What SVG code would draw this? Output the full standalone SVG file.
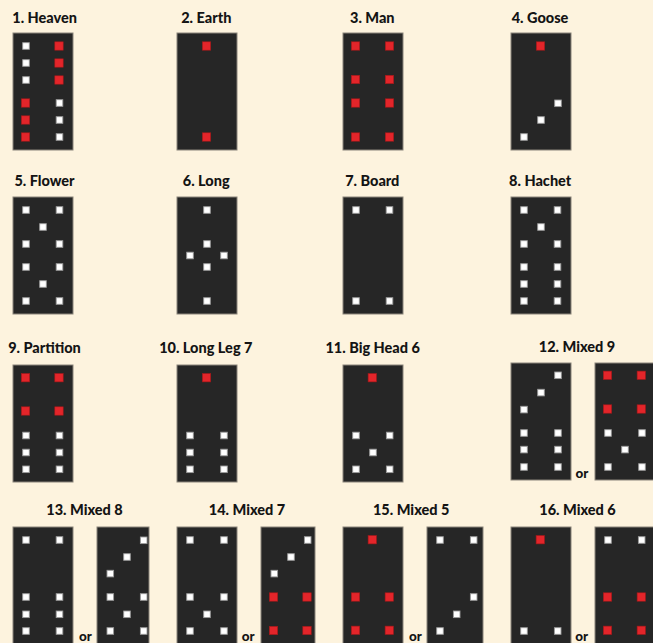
<svg xmlns="http://www.w3.org/2000/svg" xmlns:xlink="http://www.w3.org/1999/xlink" width="653" height="643" viewBox="0 0 653 643">
<style>
.bg{fill:#fdf3de}
.tile{fill:#262626;stroke:#8a847a;stroke-width:1}
.lbl{font-family:Lato,"Open Sans","Liberation Sans",sans-serif;font-weight:900;font-size:14.5px;fill:#141414;text-anchor:middle}
.or{font-family:Lato,"Open Sans","Liberation Sans",sans-serif;font-weight:900;font-size:13.5px;fill:#141414}
</style>
<defs>
<rect id="w" x="-3.3" y="-3.3" width="6.6" height="6.6" fill="#ffffff" stroke="#9a9a9a" stroke-width="0.9"/>
<rect id="r" x="-4.2" y="-4.2" width="8.4" height="8.4" fill="#e3252a" stroke="#a01818" stroke-width="0.6"/>
</defs>
<rect class="bg" x="0" y="0" width="653" height="643"/>
<g id="labels">
<text class="lbl" x="44.7" y="23">1. Heaven</text>
<text class="lbl" x="206.3" y="23">2. Earth</text>
<text class="lbl" x="372.3" y="23">3. Man</text>
<text class="lbl" x="540" y="23">4. Goose</text>
<text class="lbl" x="44.5" y="186">5. Flower</text>
<text class="lbl" x="206.2" y="186">6. Long</text>
<text class="lbl" x="372.3" y="186">7. Board</text>
<text class="lbl" x="540.2" y="186">8. Hachet</text>
<text class="lbl" x="44.5" y="353">9. Partition</text>
<text class="lbl" x="205.8" y="353">10. Long Leg 7</text>
<text class="lbl" x="372.7" y="353">11. Big Head 6</text>
<text class="lbl" x="577" y="352">12. Mixed 9</text>
<text class="lbl" x="84.5" y="514.5">13. Mixed 8</text>
<text class="lbl" x="247" y="514.5">14. Mixed 7</text>
<text class="lbl" x="411.2" y="514.5">15. Mixed 5</text>
<text class="lbl" x="577.5" y="514.5">16. Mixed 6</text>
<text class="or" x="575.5" y="478">or</text>
<text class="or" x="79" y="641">or</text>
<text class="or" x="241.7" y="641">or</text>
<text class="or" x="409" y="641">or</text>
<text class="or" x="575.3" y="641">or</text>
</g>
<g id="connectors"></g>
<g id="tile1" transform="translate(13,33)">
<rect class="tile" x="0" y="0" width="60" height="117"/>
<use href="#w" x="13" y="13"/><use href="#w" x="13" y="30"/><use href="#w" x="13" y="47"/>
<use href="#r" x="46" y="13"/><use href="#r" x="46" y="30"/><use href="#r" x="46" y="47"/>
<use href="#r" x="12.5" y="70"/><use href="#r" x="12.5" y="87"/><use href="#r" x="12.5" y="104"/>
<use href="#w" x="46.5" y="70"/><use href="#w" x="46.5" y="87"/><use href="#w" x="46.5" y="104"/>
</g>
<g id="tile2" transform="translate(177,33)">
<rect class="tile" x="0" y="0" width="60" height="117"/>
<use href="#r" x="29.5" y="13"/><use href="#r" x="29.5" y="104"/>
</g>
<g id="tile3" transform="translate(343,33)">
<rect class="tile" x="0" y="0" width="60" height="117"/>
<use href="#r" x="12.5" y="13"/><use href="#r" x="46.5" y="13"/>
<use href="#r" x="12.5" y="46.5"/><use href="#r" x="46.5" y="46.5"/>
<use href="#r" x="12.5" y="70"/><use href="#r" x="46.5" y="70"/>
<use href="#r" x="12.5" y="104"/><use href="#r" x="46.5" y="104"/>
</g>
<g id="tile4" transform="translate(511,33)">
<rect class="tile" x="0" y="0" width="60" height="117"/>
<use href="#r" x="29.5" y="13"/>
<use href="#w" x="47" y="70.3"/><use href="#w" x="30" y="87"/><use href="#w" x="13" y="104"/>
</g>
<g id="tile5" transform="translate(13,197)">
<rect class="tile" x="0" y="0" width="60" height="117"/>
<use href="#w" x="13" y="13"/><use href="#w" x="46.5" y="13"/>
<use href="#w" x="30" y="30"/>
<use href="#w" x="13" y="47"/><use href="#w" x="46.5" y="47"/>
<use href="#w" x="13" y="70"/><use href="#w" x="46.5" y="70"/>
<use href="#w" x="30" y="87"/>
<use href="#w" x="13" y="104"/><use href="#w" x="46.5" y="104"/>
</g>
<g id="tile6" transform="translate(177,197)">
<rect class="tile" x="0" y="0" width="60" height="117"/>
<use href="#w" x="30" y="13"/>
<use href="#w" x="30" y="47"/>
<use href="#w" x="13" y="58.5"/><use href="#w" x="47" y="58.5"/>
<use href="#w" x="30" y="70"/>
<use href="#w" x="30" y="104"/>
</g>
<g id="tile7" transform="translate(343,197)">
<rect class="tile" x="0" y="0" width="60" height="117"/>
<use href="#w" x="13" y="13"/><use href="#w" x="46.5" y="13"/>
<use href="#w" x="13" y="104"/><use href="#w" x="46.5" y="104"/>
</g>
<g id="tile8" transform="translate(511,197)">
<rect class="tile" x="0" y="0" width="60" height="117"/>
<use href="#w" x="13" y="13"/><use href="#w" x="46.5" y="13"/>
<use href="#w" x="30" y="30"/>
<use href="#w" x="13" y="47"/><use href="#w" x="46.5" y="47"/>
<use href="#w" x="13" y="70"/><use href="#w" x="46.5" y="70"/>
<use href="#w" x="13" y="87"/><use href="#w" x="46.5" y="87"/>
<use href="#w" x="13" y="104"/><use href="#w" x="46.5" y="104"/>
</g>
<g id="tile9" transform="translate(13,365)">
<rect class="tile" x="0" y="0" width="60" height="117"/>
<use href="#r" x="12.5" y="12.7"/><use href="#r" x="46" y="12.7"/>
<use href="#r" x="12.5" y="46"/><use href="#r" x="46" y="46"/>
<use href="#w" x="13" y="70.5"/><use href="#w" x="46.5" y="70.5"/>
<use href="#w" x="13" y="87.5"/><use href="#w" x="46.5" y="87.5"/>
<use href="#w" x="13" y="104.3"/><use href="#w" x="46.5" y="104.3"/>
</g>
<g id="tile10" transform="translate(177,365)">
<rect class="tile" x="0" y="0" width="60" height="117"/>
<use href="#r" x="29.5" y="12.7"/>
<use href="#w" x="13" y="70.5"/><use href="#w" x="47" y="70.5"/>
<use href="#w" x="13" y="87.5"/><use href="#w" x="47" y="87.5"/>
<use href="#w" x="13" y="104.3"/><use href="#w" x="47" y="104.3"/>
</g>
<g id="tile11" transform="translate(343,365)">
<rect class="tile" x="0" y="0" width="60" height="117"/>
<use href="#r" x="29.3" y="12.7"/>
<use href="#w" x="13" y="70.5"/><use href="#w" x="46.7" y="70.5"/>
<use href="#w" x="30" y="87.5"/>
<use href="#w" x="13" y="104.3"/><use href="#w" x="46.7" y="104.3"/>
</g>
<g id="tile12a" transform="translate(511,363)">
<rect class="tile" x="0" y="0" width="60" height="117"/>
<use href="#w" x="47" y="12.3"/>
<use href="#w" x="30" y="29.6"/>
<use href="#w" x="13" y="46.6"/>
<use href="#w" x="13" y="70"/><use href="#w" x="47" y="70"/>
<use href="#w" x="13" y="86.6"/><use href="#w" x="47" y="86.6"/>
<use href="#w" x="13" y="104"/><use href="#w" x="47" y="104"/>
</g>
<g id="tile12b" transform="translate(595,363)">
<rect class="tile" x="0" y="0" width="60" height="117"/>
<use href="#r" x="12.5" y="12.3"/><use href="#r" x="46.3" y="12.3"/>
<use href="#r" x="12.5" y="46"/><use href="#r" x="46.3" y="46"/>
<use href="#w" x="13" y="70"/><use href="#w" x="47" y="70"/>
<use href="#w" x="30" y="86.6"/>
<use href="#w" x="13" y="104"/><use href="#w" x="47" y="104"/>
</g>
<g id="tile13a" transform="translate(13,527)">
<rect class="tile" x="0" y="0" width="60" height="117"/>
<use href="#w" x="13" y="13"/><use href="#w" x="46.5" y="13"/>
<use href="#w" x="13" y="70"/><use href="#w" x="46.5" y="70"/>
<use href="#w" x="13" y="87.3"/><use href="#w" x="46.5" y="87.3"/>
<use href="#w" x="13" y="104"/><use href="#w" x="46.5" y="104"/>
</g>
<g id="tile13b" transform="translate(97,527)">
<rect class="tile" x="0" y="0" width="52" height="117"/>
<use href="#w" x="46.7" y="13.3"/>
<use href="#w" x="30" y="30"/>
<use href="#w" x="13.3" y="46.6"/>
<use href="#w" x="13.3" y="70"/><use href="#w" x="46.7" y="70"/>
<use href="#w" x="30" y="87.3"/>
<use href="#w" x="13.3" y="104"/><use href="#w" x="46.7" y="104"/>
</g>
<g id="tile14a" transform="translate(177,527)">
<rect class="tile" x="0" y="0" width="60" height="117"/>
<use href="#w" x="13" y="13"/><use href="#w" x="47" y="13"/>
<use href="#w" x="13" y="70"/><use href="#w" x="47" y="70"/>
<use href="#w" x="30" y="87.3"/>
<use href="#w" x="13" y="104"/><use href="#w" x="47" y="104"/>
</g>
<g id="tile14b" transform="translate(261,527)">
<rect class="tile" x="0" y="0" width="54" height="117"/>
<use href="#w" x="46.7" y="13"/>
<use href="#w" x="30" y="30"/>
<use href="#w" x="13.3" y="46.6"/>
<use href="#r" x="12.5" y="70"/><use href="#r" x="46" y="70"/>
<use href="#r" x="12.5" y="103.5"/><use href="#r" x="46" y="103.5"/>
</g>
<g id="tile15a" transform="translate(343,527)">
<rect class="tile" x="0" y="0" width="60" height="117"/>
<use href="#r" x="29.3" y="12.7"/>
<use href="#r" x="12.5" y="70"/><use href="#r" x="46.3" y="70"/>
<use href="#r" x="12.5" y="103.3"/><use href="#r" x="46.3" y="103.3"/>
</g>
<g id="tile15b" transform="translate(427,527)">
<rect class="tile" x="0" y="0" width="56" height="117"/>
<use href="#w" x="13" y="13"/><use href="#w" x="46.7" y="13"/>
<use href="#w" x="46.7" y="70"/>
<use href="#w" x="29.7" y="87.3"/>
<use href="#w" x="13" y="104"/>
</g>
<g id="tile16a" transform="translate(511,527)">
<rect class="tile" x="0" y="0" width="60" height="117"/>
<use href="#r" x="29.3" y="12.7"/>
<use href="#w" x="13" y="104"/><use href="#w" x="46.7" y="104"/>
</g>
<g id="tile16b" transform="translate(595,527)">
<rect class="tile" x="0" y="0" width="60" height="117"/>
<use href="#w" x="13" y="13"/><use href="#w" x="46.7" y="13"/>
<use href="#r" x="12.5" y="70"/><use href="#r" x="46.3" y="70"/>
<use href="#r" x="12.5" y="103.3"/><use href="#r" x="46.3" y="103.3"/>
</g>
</svg>
